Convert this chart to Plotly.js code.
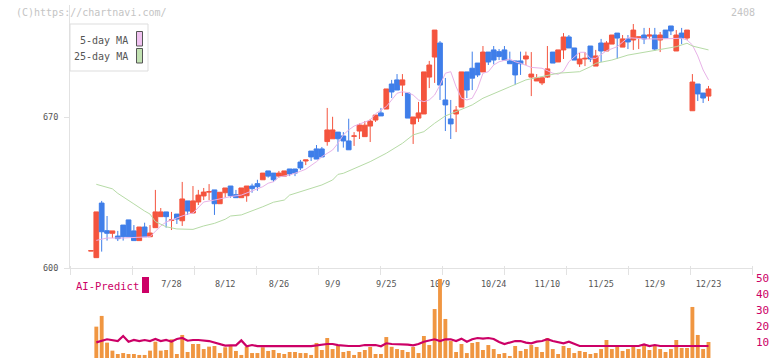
<!DOCTYPE html>
<html><head><meta charset="utf-8">
<script src="https://cdn.plot.ly/plotly-3.0.1.min.js"></script>
<style>html,body{margin:0;padding:0;background:#fff}#chart{width:772px;height:361px}</style>
</head><body><div id="chart"></div>
<script>
const dates = ['7/4','7/7','7/8','7/9','7/10','7/11','7/14','7/15','7/16','7/17','7/18','7/22','7/23','7/24','7/25','7/28','7/29','7/30','7/31',
'8/1','8/4','8/5','8/6','8/7','8/8','8/12','8/13','8/14','8/15','8/18','8/19','8/20','8/21','8/22','8/25','8/26','8/27','8/28','8/29',
'9/1','9/2','9/3','9/4','9/5','9/8','9/9','9/10','9/11','9/12','9/16','9/17','9/18','9/19','9/22','9/24','9/25','9/26','9/29','9/30',
'10/1','10/2','10/3','10/6','10/7','10/8','10/9','10/10','10/14','10/15','10/16','10/17','10/20','10/21','10/22','10/23','10/24','10/27','10/28','10/29','10/30','10/31',
'11/4','11/5','11/6','11/7','11/10','11/11','11/12','11/13','11/14','11/17','11/18','11/19','11/20','11/21','11/25','11/26','11/27','11/28',
'12/1','12/2','12/3','12/4','12/5','12/8','12/9','12/10','12/11','12/12','12/15','12/16','12/17','12/18','12/19','12/22','12/23'];

const open = [607.9,604.8,630.1,617.3,616.1,614.8,619.9,622.3,617.2,612.7,
619.0,614.5,618.7,623.8,626.0,622.0,625.0,621.9,631.1,625.5,
630.6,633.4,635.2,636.2,629.8,634.9,638.0,634.0,632.6,633.5,
638.0,639.1,640.9,645.0,644.0,642.6,642.6,645.9,645.9,649.1,
649.6,654.2,655.2,655.2,658.6,659.9,663.0,661.2,658.9,661.1,
663.5,660.9,665.8,668.6,671.9,673.7,685.3,687.2,684.8,681.1,
666.8,669.5,671.4,688.5,697.8,704.3,677.9,669.1,671.4,674.6,
690.9,692.6,695.0,690.9,700.1,701.1,700.3,701.1,696.0,696.0,
696.0,696.9,688.5,686.7,685.8,688.5,700.1,695.5,701.1,707.1,
702.0,694.6,696.9,702.9,693.6,704.3,700.6,703.8,708.9,702.4,
706.2,705.7,707.0,708.0,707.5,708.0,705.7,710.3,712.2,700.6,
708.9,706.6,672.9,685.3,681.1,679.7];

const high = [608.0,626.0,631.1,624.1,617.2,617.2,619.9,622.3,619.9,619.0,
621.0,619.9,636.2,627.8,626.0,626.0,625.0,639.9,631.1,638.0,
636.2,637.1,638.9,636.2,635.1,637.1,638.0,636.2,637.1,638.0,
639.1,640.9,644.0,645.0,644.0,645.0,645.0,645.9,645.9,650.1,
650.1,654.2,657.0,656.1,674.2,670.1,663.0,663.0,669.2,663.0,
667.0,668.1,669.1,670.9,674.2,683.0,687.2,689.9,689.9,681.1,
670.0,677.0,690.9,696.0,710.3,705.2,688.1,677.9,675.1,690.9,
690.9,700.3,695.0,702.9,700.1,702.9,701.5,702.9,700.3,696.0,
700.3,700.3,700.1,689.9,688.2,702.9,700.1,701.1,708.9,708.0,
702.0,699.7,700.1,702.9,701.1,706.2,705.2,708.0,708.9,708.0,
708.0,713.1,707.1,711.3,711.3,711.3,709.4,710.3,712.2,710.3,
711.3,710.3,689.9,685.3,681.1,684.4];

const low = [607.9,604.8,607.6,612.7,613.9,612.5,612.7,614.5,612.7,612.7,
614.5,614.5,618.7,623.8,618.7,617.6,620.4,619.5,624.6,625.5,
629.2,631.5,631.5,624.6,629.8,632.6,632.6,632.6,632.6,630.7,
634.9,635.8,640.9,641.9,640.0,641.9,642.6,642.6,642.6,645.4,
647.7,649.6,650.5,651.5,656.7,659.9,653.9,655.8,654.8,656.6,
659.8,660.9,658.4,667.7,670.5,673.7,678.8,682.5,679.7,669.5,
657.5,667.7,671.4,683.4,685.8,677.9,663.5,659.8,663.0,674.6,
678.8,682.5,688.5,690.9,694.1,694.4,696.4,696.4,694.7,684.8,
689.5,694.1,679.7,686.7,684.8,688.1,695.0,695.5,696.9,702.0,
696.4,693.2,693.6,695.5,693.6,695.5,700.6,703.8,696.9,702.4,
701.5,701.1,701.5,703.8,706.2,700.6,700.1,706.6,708.0,700.6,
703.8,705.7,672.9,677.4,676.5,677.4];

const close = [608.0,626.0,616.8,616.1,617.2,613.6,614.5,614.5,612.7,619.0,
614.5,616.2,626.0,626.0,623.8,622.3,622.7,632.0,626.4,631.1,
633.8,635.2,635.4,629.8,635.1,637.1,633.5,632.6,637.1,638.0,
636.8,637.7,644.0,642.6,640.9,644.0,645.0,643.6,644.0,646.4,
650.1,651.5,650.5,651.5,664.0,664.0,659.9,658.9,654.8,661.2,
666.3,666.2,668.1,670.9,670.5,683.0,681.6,682.5,687.2,669.5,
670.0,671.9,690.9,694.1,710.3,684.8,675.6,666.8,673.2,690.9,
682.5,688.0,689.5,700.1,695.5,696.4,698.0,696.4,694.7,689.5,
694.7,698.3,689.9,688.1,688.2,692.3,695.0,701.1,707.1,702.0,
696.4,696.9,697.2,696.9,698.3,700.6,704.3,708.0,706.6,706.2,
704.8,710.3,707.1,706.2,708.0,701.5,708.0,706.6,709.9,708.0,
706.6,710.3,686.2,680.7,678.8,683.0];

const volume = [0,19.6,26.3,9.6,4.6,2.5,3.1,2.5,2.5,1.9,
1.9,4.6,10.2,4.6,5.0,11.7,2.5,14.4,3.75,8.75,
8.75,5.6,7.1,7.5,3.1,6.7,7.5,4.4,1.9,7.1,
3.1,3.1,6.7,4.4,5.0,3.1,2.5,3.75,3.75,3.1,
3.1,1.9,9.4,5.0,12.5,5.6,7.5,3.75,4.4,1.9,
3.75,5.0,6.9,2.5,2.5,13.1,7.0,5.6,5.0,3.75,
6.9,3.1,13.75,8.1,30.6,49.4,24.4,10.6,3.75,8.75,
3.1,9.4,10.0,5.0,8.1,5.6,2.5,3.1,1.25,7.5,
4.4,5.6,8.1,6.9,3.75,12.5,5.6,2.5,7.5,6.25,
3.1,4.4,3.75,2.5,3.1,5.6,11.25,5.6,7.5,4.4,
5.6,7.5,5.6,8.1,5.0,7.5,5.6,3.75,5.6,11.25,
6.25,6.25,31.9,14.4,5.6,10.0];

const ma5Idx = [1,3,6,10,11,13,14,16,18,19,20,21,23,26,28,30,32,33,34,35,37,39,40,42,43,45,46,47,48,49,51,52,53,55,56,57,58,59,60,61,62,63,64,65,66,67,68,69,70,71,72,73,74,75,76,78,79,80,82,84,86,87,88,89,91,92,93,94,96,98,100,103,106,108,110,111,112,113,114,115];
const ma5Vals = [612.8,613.9,613.9,614.2,614.5,619.5,621.3,623.2,625.0,625.5,628.3,630.6,631.5,633.1,633.8,635.7,637.7,639.3,640.0,642.2,643.1,644.8,645.8,649.3,651.6,654.7,657.8,661.7,664.0,665.8,667.8,668.6,671.5,674.8,677.9,681.0,681.7,681.3,680.2,677.9,677.1,677.9,680.2,684.8,690.3,691.0,684.0,678.7,677.9,678.7,683.3,690.3,691.0,694.1,695.6,696.9,695.6,694.9,693.0,692.6,690.3,689.8,691.3,695.6,700.0,700.0,697.2,697.2,700.7,702.6,706.8,706.2,706.2,706.2,706.5,705.7,703.4,698.3,691.8,687.2];

const ma25Idx = [1,4,5,7,8,10,11,12,14,16,18,19,21,23,25,26,28,30,32,34,36,37,39,41,43,45,46,47,49,52,55,58,60,62,64,66,68,70,71,73,76,78,81,84,87,91,93,94,97,100,104,107,109,111,112,115];
const ma25Vals = [638.8,636.7,634.6,631.5,629.7,626.4,625.0,621.5,619.1,618.1,617.9,617.9,619.5,620.7,622.6,624.1,624.6,626.4,628.4,630.5,631.5,633.8,635.4,636.9,638.5,640.8,643.4,643.9,646.2,649.3,653.2,657.8,661.7,663.2,667.1,670.5,672.5,674.5,675.6,678.7,681.7,684.0,687.2,688.7,690.3,691.0,693.3,694.9,696.4,698.7,700.3,701.5,702.6,704.2,702.9,701.1];

const aiIdx = [1,3,5,6,7,8,9,10,11,12,13,14,15,16,17,18,19,20,22,23,24,25,26,27,28,29,30,31,41,42,44,45,46,48,50,51,53,54,55,56,58,59,60,61,62,63,64,65,66,67,68,69,70,71,72,73,74,75,76,77,78,79,80,81,82,83,84,85,86,87,88,89,90,91,102,103,104,105,106,115];
const aiVals = [9.8,11.7,10.6,13.75,10.2,11.25,10.6,11.25,10.6,11.9,10.6,11.25,10.2,11.9,12.5,10.8,11.25,11.25,10.6,9.6,8.75,7.7,7.9,7.9,11.0,7.3,8.1,7.4,7.4,7.9,8.75,8.75,8.1,7.5,7.5,8.1,8.1,7.3,9.2,8.75,8.75,8.3,7.9,8.75,10.2,10.8,11.7,10.6,11.7,11.7,10.6,12.1,10.2,11.7,12.5,12.1,12.5,11.9,10.0,8.75,9.8,10.6,10.6,9.6,9.2,10.2,10.6,11.7,10.6,10.0,9.2,10.2,8.75,7.5,7.5,8.5,7.5,8.1,7.5,7.5];

const dateLabels = ['7/28','8/12','8/26','9/9','9/25','10/9','10/24','11/10','11/25','12/9','12/23'];
const priceTicks = [600, 670];
const volTicks = [0, 10, 20, 30, 40, 50];

const W = 772, H = 361;
const px = x => x / W, py = y => 1 - y / H;
const MONO = 'DejaVu Sans Mono';
const RED = '#f4543e', BLUE = '#3f7ee9', PINK = '#cc0066';

const traces = [
  {type:'candlestick', x: dates, open: open, high: high, low: low, close: close,
   increasing:{line:{color:RED, width:1}, fillcolor:RED},
   decreasing:{line:{color:BLUE, width:1}, fillcolor:BLUE},
   whiskerwidth:0, hoverinfo:'skip'},
  {type:'scatter', mode:'lines', x: ma5Idx.map(i => dates[i]), y: ma5Vals, line:{color:'#e8b2e8', width:1}, hoverinfo:'skip'},
  {type:'scatter', mode:'lines', x: ma25Idx.map(i => dates[i]), y: ma25Vals, line:{color:'#b6dba6', width:1}, hoverinfo:'skip'},
  {type:'bar', x: dates, y: volume, yaxis:'y2', marker:{color:'#f09641', line:{width:0}}, hoverinfo:'skip'},
  {type:'scatter', mode:'lines', x: aiIdx.map(i => dates[i]), y: aiVals, yaxis:'y2', line:{color:PINK, width:2.2}, hoverinfo:'skip'},
  {type:'scatter', mode:'markers', x: [], y: [], xaxis:'x2', yaxis:'y', hoverinfo:'skip'}
];

const layout = {
  width: W, height: H,
  margin: {l:0, r:0, t:0, b:0},
  paper_bgcolor: '#ffffff', plot_bgcolor: 'rgba(0,0,0,0)',
  showlegend: false,
  hovermode: false,
  boxgap: 0.12,
  boxgroupgap: 0,
  bargap: 0.28,
  font: {family: MONO, size: 9, color: '#555'},
  xaxis: {type:'category', categoryorder:'array', categoryarray: dates,
    domain:[px(70), px(752)], range:[-3.9, 123.1], autorange:false, anchor:'y',
    tickmode:'array', tickvals: dateLabels, ticktext: dateLabels, tickangle:0, ticks:'', showgrid:false, zeroline:false,
    showline:true, linecolor:'#e2e2e2', linewidth:1, tickfont:{family:MONO, size:8.5, color:'#555'},
    ticklabelstandoff: 8, rangeslider:{visible:false}, fixedrange:true},
  xaxis2: {type:'linear', overlaying:'x', anchor:'free', position: py(265), range:[0, 11], autorange:false,
    tickmode:'linear', tick0:0, dtick:1, ticks:'outside', ticklen:9, tickcolor:'#e2e2e2', tickwidth:1,
    showticklabels:false, showgrid:false, zeroline:false, showline:false},
  yaxis: {domain:[py(268), py(5)], range:[600, 600 + 263 * 70 / 151], autorange:false,
    tickmode:'array', tickvals: priceTicks, ticks:'outside', ticklen:5, tickcolor:'#e2e2e2',
    showline:true, linecolor:'#e2e2e2', showgrid:false, zeroline:false,
    tickfont:{family:MONO, size:8.5, color:'#555'}, ticklabelstandoff: 4},
  yaxis2: {domain:[py(358), py(278)], range:[0, 50], autorange:false, anchor:'x', side:'right',
    tickmode:'array', tickvals: volTicks, ticks:'', showline:false, showgrid:false, zeroline:false,
    tickfont:{family:MONO, size:11, color:PINK}, ticklabelstandoff: 3},
  shapes: [
    {type:'rect', xref:'paper', yref:'paper', x0:px(70), x1:px(148), y0:py(71), y1:py(24), line:{color:'#dddddd', width:1}, fillcolor:'#ffffff'},
    {type:'rect', xref:'paper', yref:'paper', x0:px(136.5), x1:px(142.5), y0:py(46), y1:py(31.5), line:{color:'#555', width:1}, fillcolor:'#f0c2f0'},
    {type:'rect', xref:'paper', yref:'paper', x0:px(136.5), x1:px(142.5), y0:py(63), y1:py(48.5), line:{color:'#555', width:1}, fillcolor:'#c2e2b2'},
    {type:'rect', xref:'paper', yref:'paper', x0:px(142), x1:px(149), y0:py(293), y1:py(277), line:{width:0}, fillcolor:PINK}
  ],
  annotations: [
    {xref:'paper', yref:'paper', x:px(14), y:py(12.5), xanchor:'left', yanchor:'middle', showarrow:false,
     text:'(C)https://chartnavi.com/', font:{family:MONO, size:10, color:'#c4c4c4'}},
    {xref:'paper', yref:'paper', x:px(757), y:py(12.5), xanchor:'right', yanchor:'middle', showarrow:false,
     text:'2408', font:{family:MONO, size:10, color:'#c4c4c4'}},
    {xref:'paper', yref:'paper', x:px(130), y:py(40.5), xanchor:'right', yanchor:'middle', showarrow:false,
     text:'5-day MA', font:{family:MONO, size:10, color:'#555'}},
    {xref:'paper', yref:'paper', x:px(130), y:py(56.5), xanchor:'right', yanchor:'middle', showarrow:false,
     text:'25-day MA', font:{family:MONO, size:10, color:'#555'}},
    {xref:'paper', yref:'paper', x:px(74), y:py(286), xanchor:'left', yanchor:'middle', showarrow:false,
     text:'AI-Predict', font:{family:MONO, size:10.5, color:PINK}}
  ]
};

Plotly.newPlot('chart', traces, layout, {staticPlot:true, displayModeBar:false});
</script></body></html>
